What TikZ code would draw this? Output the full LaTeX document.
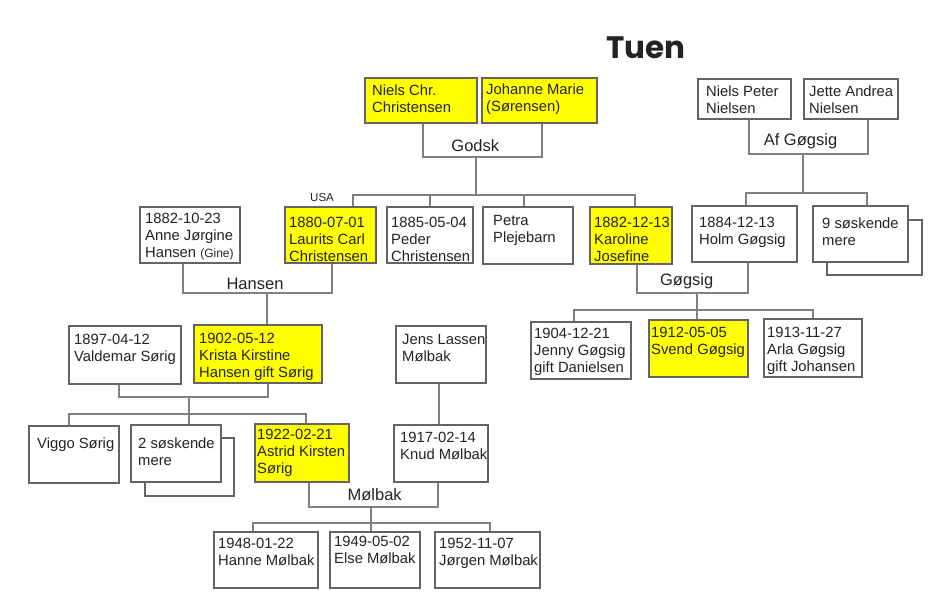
\documentclass[tikz,border=0pt]{standalone}
\usepackage{fontspec}
\setmainfont{Liberation Sans}
\newfontfamily\titlefont{Poppins}
\usetikzlibrary{fit,calc}
\definecolor{boxedge}{RGB}{100,100,100}
\definecolor{linegray}{RGB}{128,128,128}
\definecolor{famyellow}{RGB}{255,255,0}
\definecolor{txtcol}{RGB}{35,35,35}
\tikzset{
  fambox/.style={draw=boxedge, line width=1.1pt, inner sep=0pt},
  famshadow/.style={draw=boxedge, line width=1.1pt, fill=white},
  famtext/.style={anchor=north west, inner sep=0pt, align=left, text=txtcol,
    font=\fontsize{14.8}{17.3}\selectfont},
  famlabel/.style={anchor=base, inner sep=0pt, text=txtcol,
    font=\fontsize{16.5}{18}\selectfont},
  famline/.style={draw=linegray, line width=1.2pt},
}
\newcommand\famBox[9]{%
  \node[fambox, fill=#6, fit={(#2,#3) (#4,#5)}] (#1) {};
  \node[famtext] (#1T) at (#7,{#8-12}) {\rule{0pt}{12pt}#9};
}
\begin{document}
\begin{tikzpicture}[x=1pt,y=-1pt]
\fill[white] (0,0) rectangle (952,614);
\useasboundingbox (0,0) rectangle (952,614);

% title
\node[anchor=base west, inner sep=0pt, text=txtcol,
  font=\titlefont\bfseries\fontsize{31}{31}\selectfont] (title) at (606,58) {Tuen};

% top generation
\famBox{niels}{365}{78}{477}{123}{famyellow}{372}{95}{Niels Chr.\\Christensen}
\famBox{johanne}{482}{78}{597}{123}{famyellow}{486}{94}{Johanne Marie\\(Sørensen)}
\famBox{nielsP}{698}{79}{791}{119}{white}{706}{96}{Niels Peter\\Nielsen}
\famBox{jette}{804}{79}{898}{119}{white}{809}{96}{Jette Andrea\\Nielsen}

% second generation
\famBox{anne}{140}{207}{240}{263}{white}{145}{223}{1882-10-23\\Anne Jørgine\\Hansen {\fontsize{12}{14}\selectfont(Gine)}}
\famBox{laurits}{285}{207}{376}{263}{famyellow}{289}{227}{1880-07-01\\Laurits Carl\\Christensen}
\famBox{peder}{387}{207}{473}{263}{white}{391}{227}{1885-05-04\\Peder\\Christensen}
\famBox{petra}{483}{207}{573}{264}{white}{493}{225}{Petra\\Plejebarn}
\famBox{karoline}{590}{207}{672}{264}{famyellow}{594}{227}{1882-12-13\\Karoline\\Josefine}
\famBox{holm}{692}{206}{797}{262}{white}{699}{227}{1884-12-13\\Holm Gøgsig}
\path[famshadow] (827,220) rectangle (922,275);
\famBox{sosk9}{813}{206}{908}{262}{white}{822}{228}{9 søskende\\mere}

% third generation
\famBox{jenny}{531}{322}{631}{379}{white}{534}{338}{1904-12-21\\Jenny Gøgsig\\gift Danielsen}
\famBox{svend}{649}{320}{748}{377}{famyellow}{651}{337}{1912-05-05\\Svend Gøgsig}
\famBox{arla}{764}{319}{862}{377}{white}{767}{337}{1913-11-27\\Arla Gøgsig\\gift Johansen}
\famBox{valdemar}{69}{326}{181}{384}{white}{74}{344}{1897-04-12\\Valdemar Sørig}
\famBox{krista}{194}{325}{322}{383}{famyellow}{199}{343}{1902-05-12\\Krista Kirstine\\Hansen gift Sørig}
\famBox{jens}{396}{326}{486}{383}{white}{402}{344}{Jens Lassen\\Mølbak}

% fourth generation
\famBox{viggo}{29}{426}{119}{483}{white}{37}{448}{Viggo Sørig}
\path[famshadow] (145,438) rectangle (234,496);
\famBox{sosk2}{131}{425}{221}{482}{white}{138}{448}{2 søskende\\mere}
\famBox{astrid}{255}{424}{349}{482}{famyellow}{257}{439}{1922-02-21\\Astrid Kirsten\\Sørig}
\famBox{knud}{394}{425}{488}{482}{white}{400}{442}{1917-02-14\\Knud Mølbak}

% fifth generation
\famBox{hanne}{214}{532}{318}{588}{white}{218}{548}{1948-01-22\\Hanne Mølbak}
\famBox{elseB}{330}{532}{420}{588}{white}{334}{546}{1949-05-02\\Else Mølbak}
\famBox{jorgen}{435}{532}{540}{588}{white}{439}{548}{1952-11-07\\Jørgen Mølbak}

% labels
\node[famlabel] (lblGodsk) at (475.3,151.7) {Godsk};
\node[famlabel] (lblAf) at (800.5,145) {Af Gøgsig};
\node[famlabel] (lblHansen) at (255,289) {Hansen};
\node[famlabel] (lblGogsig) at (686.7,285.5) {Gøgsig};
\node[famlabel] (lblMolbak) at (374.7,500) {Mølbak};
\node[anchor=base west, inner sep=0pt, text=txtcol,
  font=\fontsize{11.5}{13}\selectfont] (lblUSA) at (310,201.5) {USA};

% coordinates for couple bars and sibling bars
\coordinate (gdB) at (476,157);
\coordinate (gdS) at (476,195);
\coordinate (agB) at (803,154);
\coordinate (agS) at (803,193);
\coordinate (gsB) at (697,293);
\coordinate (gsS) at (697,310);
\coordinate (hsB) at (267,293);
\coordinate (srB) at (189,397);
\coordinate (srS) at (189,414);
\coordinate (mbB) at (371,507);
\coordinate (mbS) at (371,523);

% Godsk family
\draw[famline] ([xshift=2pt]niels.south) |- (gdB) -| ([xshift=2.5pt]johanne.south);
\draw[famline] (gdB) -- (gdS);
\draw[famline] ([xshift=22.5pt]laurits.north) |- (gdS) -| ([xshift=4pt]karoline.north);
\draw[famline] (peder.north) -- (peder.north |- gdS);
\draw[famline] ([xshift=-4pt]petra.north) -- ([xshift=-4pt]petra.north |- gdS);

% Af Gøgsig family
\draw[famline] ([xshift=4.5pt]nielsP.south) |- (agB) -| ([xshift=17pt]jette.south);
\draw[famline] (agB) -- (agS);
\draw[famline] ([xshift=1.5pt]holm.north) |- (agS) -| ([xshift=6.5pt]sosk9.north);

% Gøgsig family
\draw[famline] ([xshift=6pt]karoline.south) |- (gsB) -| ([xshift=3.5pt]holm.south);
\draw[famline] (gsB) -- (gsB |- svend.north);
\draw[famline] ([xshift=-7pt]jenny.north) |- (gsS) -| (arla.north);

% Hansen family
\draw[famline] ([xshift=-7pt]anne.south) |- (hsB) -| ([xshift=1.5pt]laurits.south);
\draw[famline] (hsB) -- (hsB |- krista.north);

% Sørig family
\draw[famline] ([xshift=-6pt]valdemar.south) |- (srB) -| ([xshift=10pt]krista.south);
\draw[famline] (srB) -- (srB |- sosk2.north);
\draw[famline] ([xshift=-5pt]viggo.north) |- (srS) -| ([xshift=4pt]astrid.north);

% Mølbak
\draw[famline] ([xshift=-2pt]jens.south) -- ([xshift=-2pt]knud.north);
\draw[famline] ([xshift=7pt]astrid.south) |- (mbB) -| ([xshift=-3pt]knud.south);
\draw[famline] (mbB) -- (mbB |- elseB.north);
\draw[famline] ([xshift=-13pt]hanne.north) |- (mbS) -| ([xshift=2.5pt]jorgen.north);
\end{tikzpicture}
\end{document}
